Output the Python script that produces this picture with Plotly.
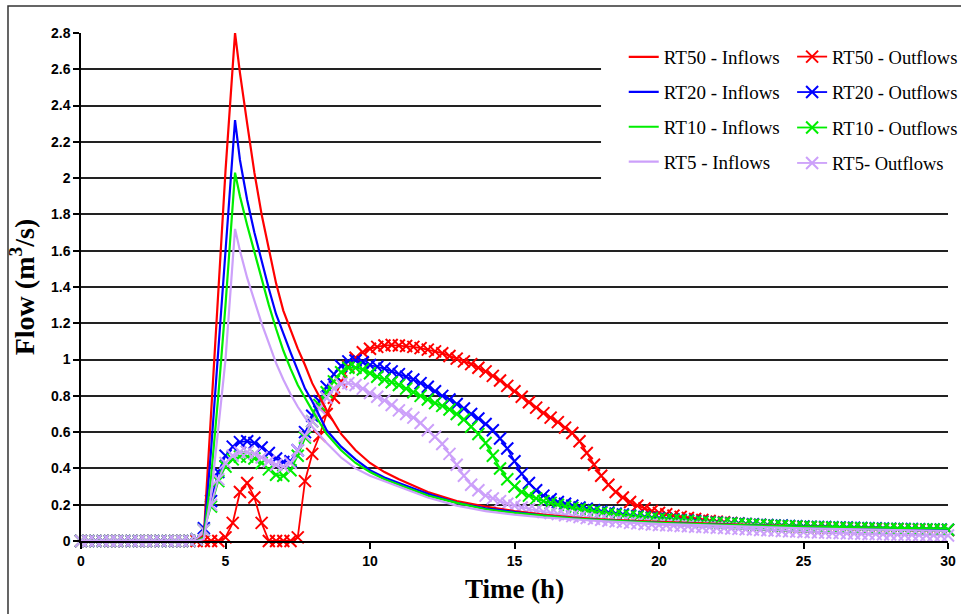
import plotly.graph_objects as go

# ---------------- data ----------------
# Inflow hydrographs (lines only)
t_in = [0, 4.0, 4.25, 4.5, 4.75, 5.0, 5.33, 5.5, 5.75, 6.0, 6.25, 6.5, 6.75, 7.0, 7.25,
        7.5, 7.75, 8.0, 8.5, 9.0, 9.5, 10.0, 10.5, 11.0, 12.0, 13.0, 14.0, 15.0, 16.0,
        17.0, 18.0, 20.0, 22.0, 25.0, 30.0]
rt50_in = [0, 0, 0.03, 0.68, 1.37, 2.04, 2.8, 2.58, 2.3, 2.03, 1.8, 1.6, 1.42, 1.27, 1.16,
           1.06, 0.97, 0.87, 0.72, 0.59, 0.5, 0.43, 0.38, 0.34, 0.27, 0.22, 0.19, 0.165, 0.145,
           0.13, 0.12, 0.105, 0.095, 0.08, 0.065]
rt20_in = [0, 0, 0.02, 0.5, 1.05, 1.6, 2.32, 2.1, 1.88, 1.7, 1.54, 1.39, 1.25, 1.14, 1.04,
           0.94, 0.84, 0.77, 0.61, 0.52, 0.45, 0.39, 0.35, 0.32, 0.26, 0.21, 0.18, 0.16, 0.14,
           0.125, 0.115, 0.1, 0.09, 0.08, 0.065]
rt10_in = [0, 0, 0.02, 0.35, 0.8, 1.3, 2.03, 1.9, 1.74, 1.59, 1.44, 1.3, 1.17, 1.05, 0.95,
           0.86, 0.79, 0.72, 0.59, 0.5, 0.43, 0.38, 0.34, 0.31, 0.25, 0.21, 0.175, 0.155, 0.14,
           0.125, 0.115, 0.1, 0.09, 0.08, 0.068]
rt5_in = [0, 0, 0.01, 0.25, 0.62, 1.0, 1.72, 1.6, 1.45, 1.32, 1.2, 1.09, 0.98, 0.89, 0.81,
          0.74, 0.68, 0.63, 0.54, 0.46, 0.4, 0.36, 0.33, 0.3, 0.24, 0.195, 0.165, 0.145, 0.13,
          0.12, 0.11, 0.095, 0.085, 0.07, 0.055]

# Outflow hydrographs, one value every 0.25 h from 0 to 30 h
t_out = [i * 0.25 for i in range(121)]
rt50_out = [
    0, 0, 0, 0, 0, 0, 0, 0,
    0, 0, 0, 0, 0, 0, 0, 0,
    0, 0, 0, 0, 0.02, 0.1, 0.27, 0.32,
    0.24, 0.1, 0.0, 0, 0, 0, 0.02, 0.33,
    0.48, 0.58, 0.70, 0.79, 0.88, 0.96, 1.01, 1.04,
    1.06, 1.07, 1.078, 1.08, 1.078, 1.075, 1.07, 1.063,
    1.055, 1.045, 1.035, 1.02, 1.005, 0.99, 0.975, 0.955,
    0.935, 0.91, 0.885, 0.855, 0.825, 0.795, 0.765, 0.735,
    0.705, 0.68, 0.655, 0.625, 0.595, 0.55, 0.485, 0.42,
    0.36, 0.31, 0.27, 0.24, 0.215, 0.195, 0.18, 0.165,
    0.155, 0.147, 0.14, 0.133, 0.127, 0.121, 0.116, 0.111,
    0.107, 0.103, 0.099, 0.096, 0.093, 0.09, 0.088, 0.086,
    0.084, 0.082, 0.08, 0.079, 0.077, 0.076, 0.074, 0.073,
    0.072, 0.071, 0.07, 0.069, 0.068, 0.067, 0.066, 0.065,
    0.064, 0.064, 0.063, 0.062, 0.062, 0.061, 0.061, 0.06,
    0.06]
rt20_out = [
    0, 0, 0, 0, 0, 0, 0, 0,
    0, 0, 0, 0, 0, 0, 0, 0,
    0.01, 0.07, 0.22, 0.38, 0.47, 0.52, 0.545, 0.55,
    0.54, 0.515, 0.485, 0.455, 0.435, 0.44, 0.5, 0.6,
    0.69, 0.77, 0.85, 0.92, 0.965, 0.99, 0.995, 0.985,
    0.97, 0.96, 0.95, 0.935, 0.92, 0.905, 0.89, 0.87,
    0.85, 0.825, 0.8, 0.78, 0.755, 0.73, 0.7, 0.675,
    0.645, 0.61, 0.565, 0.51, 0.44, 0.37, 0.32, 0.28,
    0.25, 0.23, 0.215, 0.205, 0.195, 0.185, 0.178, 0.17,
    0.163, 0.157, 0.151, 0.146, 0.141, 0.137, 0.133, 0.129,
    0.125, 0.122, 0.119, 0.116, 0.113, 0.11, 0.107, 0.104,
    0.102, 0.1, 0.098, 0.096, 0.094, 0.092, 0.09, 0.088,
    0.086, 0.085, 0.083, 0.082, 0.08, 0.079, 0.078, 0.077,
    0.076, 0.075, 0.074, 0.073, 0.072, 0.071, 0.07, 0.069,
    0.068, 0.067, 0.066, 0.066, 0.065, 0.064, 0.064, 0.063,
    0.062]
rt10_out = [
    0, 0, 0, 0, 0, 0, 0, 0,
    0, 0, 0, 0, 0, 0, 0, 0,
    0.01, 0.06, 0.19, 0.33, 0.41, 0.45, 0.465, 0.465,
    0.455, 0.43, 0.395, 0.365, 0.36, 0.39, 0.47, 0.57,
    0.66, 0.75, 0.82, 0.88, 0.93, 0.955, 0.955, 0.945,
    0.925, 0.905, 0.89, 0.875, 0.86, 0.84, 0.82, 0.8,
    0.78, 0.76, 0.745, 0.725, 0.7, 0.67, 0.63, 0.59,
    0.54, 0.47, 0.4, 0.34, 0.3, 0.27, 0.25, 0.235,
    0.22, 0.21, 0.2, 0.19, 0.182, 0.175, 0.168, 0.162,
    0.156, 0.15, 0.145, 0.14, 0.136, 0.132, 0.128, 0.125,
    0.122, 0.119, 0.116, 0.113, 0.11, 0.107, 0.104, 0.102,
    0.1, 0.098, 0.096, 0.094, 0.092, 0.09, 0.088, 0.086,
    0.084, 0.083, 0.081, 0.08, 0.078, 0.077, 0.076, 0.075,
    0.074, 0.073, 0.072, 0.071, 0.07, 0.069, 0.068, 0.067,
    0.066, 0.066, 0.065, 0.064, 0.064, 0.063, 0.063, 0.062,
    0.062]
rt5_out = [
    0, 0, 0, 0, 0, 0, 0, 0,
    0, 0, 0, 0, 0, 0, 0, 0,
    0.01, 0.06, 0.2, 0.34, 0.43, 0.47, 0.49, 0.49,
    0.48, 0.46, 0.44, 0.42, 0.41, 0.43, 0.5, 0.58,
    0.66, 0.73, 0.79, 0.84, 0.865, 0.87, 0.86, 0.84,
    0.815, 0.795, 0.775, 0.75, 0.72, 0.7, 0.68, 0.65,
    0.61, 0.575, 0.535, 0.48, 0.42, 0.36, 0.31, 0.28,
    0.25, 0.235, 0.22, 0.205, 0.195, 0.185, 0.175, 0.168,
    0.16, 0.154, 0.148, 0.142, 0.137, 0.132, 0.127, 0.122,
    0.117, 0.112, 0.108, 0.104, 0.1, 0.097, 0.094, 0.091,
    0.088, 0.087, 0.085, 0.083, 0.081, 0.079, 0.077, 0.075,
    0.073, 0.071, 0.069, 0.067, 0.065, 0.063, 0.061, 0.059,
    0.057, 0.055, 0.053, 0.052, 0.05, 0.049, 0.047, 0.046,
    0.045, 0.044, 0.042, 0.041, 0.04, 0.039, 0.038, 0.037,
    0.036, 0.035, 0.034, 0.034, 0.033, 0.032, 0.032, 0.031,
    0.03]

series_names = ["RT50", "RT20", "RT10", "RT5"]
inflow_labels = ["RT50 - Inflows", "RT20 - Inflows", "RT10 - Inflows", "RT5 - Inflows"]
outflow_labels = ["RT50 - Outflows", "RT20 - Outflows", "RT10 - Outflows", "RT5- Outflows"]
inflows = [rt50_in, rt20_in, rt10_in, rt5_in]
outflows = [rt50_out, rt20_out, rt10_out, rt5_out]

x_ticks = [0, 5, 10, 15, 20, 25, 30]
y_ticks = [0, 0.2, 0.4, 0.6, 0.8, 1.0, 1.2, 1.4, 1.6, 1.8, 2.0, 2.2, 2.4, 2.6, 2.8]
y_tick_labels = ["0", "0.2", "0.4", "0.6", "0.8", "1", "1.2", "1.4", "1.6", "1.8",
                 "2", "2.2", "2.4", "2.6", "2.8"]

# ---------------- styling ----------------
colors = ["#FF0000", "#0000FF", "#00EE00", "#CCA0FA"]
serif = "Liberation Serif, Times New Roman, serif"
tickfam = "Liberation Sans Narrow, Arial Narrow, Liberation Sans, Arial, sans-serif"

fig = go.Figure()

for name, lab, y, c in zip(series_names, outflow_labels, outflows, colors):
    fig.add_trace(go.Scatter(
        x=t_out, y=y, name=lab, mode="lines+markers", legend="legend2",
        legendgroup="out" + name, cliponaxis=False,
        line=dict(color=c, width=1.8),
        marker=dict(symbol="x-thin", size=12, color=c, line=dict(color=c, width=2)),
    ))

for name, lab, y, c in zip(series_names, inflow_labels, inflows, colors):
    fig.add_trace(go.Scatter(
        x=t_in, y=y, name=lab, mode="lines", legend="legend",
        legendgroup="in" + name, cliponaxis=False,
        line=dict(color=c, width=2.2),
    ))

legend_common = dict(
    xanchor="left", yanchor="top", bgcolor="rgba(0,0,0,0)", borderwidth=0,
    itemwidth=30, traceorder="grouped",
)

fig.update_layout(
    width=961, height=614,
    margin=dict(l=81, r=13, t=33, b=73, autoexpand=False),
    paper_bgcolor="white", plot_bgcolor="white",
    legend=dict(x=0.626, y=0.99, tracegroupgap=7.2,
                font=dict(family=serif, size=19, color="black"), **legend_common),
    legend2=dict(x=0.8202, y=0.99, tracegroupgap=8.4,
                 font=dict(family=serif, size=18.5, color="black"), **legend_common),
    showlegend=True,
    xaxis=dict(
        range=[0, 30], tickvals=x_ticks, ticktext=[str(v) for v in x_ticks],
        ticks="outside", ticklen=6, tickwidth=1.5, tickcolor="black",
        showline=True, linecolor="black", linewidth=1.5,
        showgrid=False, zeroline=False, automargin=False,
        tickfont=dict(family=tickfam, size=14, color="black", weight="bold"),
        title=dict(text="Time (h)", standoff=12,
                   font=dict(family=serif, size=27, color="black", weight="bold")),
    ),
    yaxis=dict(
        range=[0, 2.8], tickvals=y_ticks, ticktext=y_tick_labels,
        ticks="outside", ticklen=6, tickwidth=1.5, tickcolor="black",
        showline=True, linecolor="black", linewidth=1.5,
        showgrid=True, gridcolor="#222222", gridwidth=1.5, zeroline=False,
        automargin=False,
        tickfont=dict(family=tickfam, size=14, color="black", weight="bold"),
        title=dict(text="Flow (m<sup>3</sup>/s)", standoff=8,
                   font=dict(family=serif, size=28, color="black", weight="bold")),
    ),
    shapes=[
        # white panel behind the legend hiding the grid lines
        dict(type="rect", xref="paper", yref="paper", x0=0.5998, x1=1.02,
             y0=0.677, y1=0.967, fillcolor="white", line=dict(width=0), layer="above"),
        # outer frame of the figure
        dict(type="rect", xref="paper", yref="paper", x0=-0.0842, x1=1.03,
             y0=-0.2, y1=1.053, line=dict(color="#333333", width=1.5), layer="above"),
    ],
)

fig.write_html("out.html", config={"displayModeBar": False},
               post_script="document.body.style.margin='0';document.body.style.overflow='hidden';")
